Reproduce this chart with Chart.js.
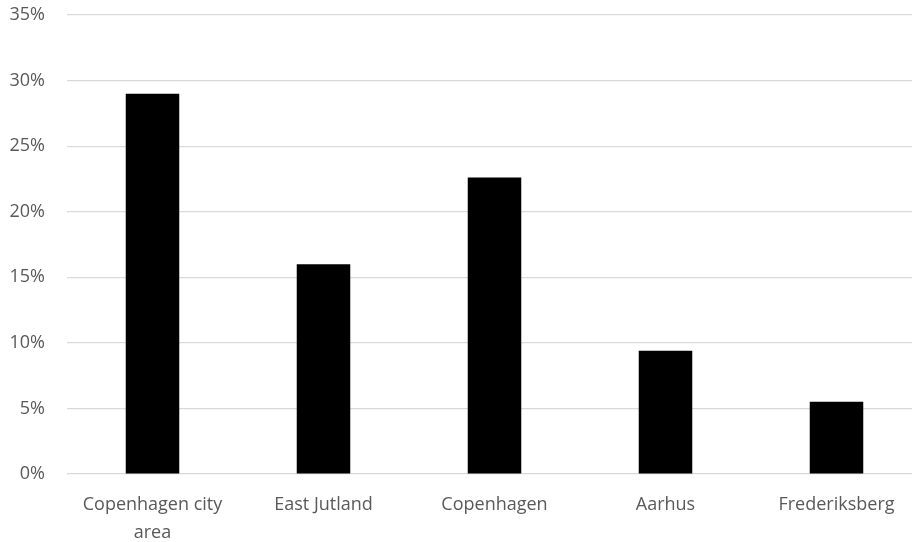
<!DOCTYPE html>
<html lang="en">
<head>
  <meta charset="UTF-8">
  <title>Share by area</title>
  <script src="https://cdn.jsdelivr.net/npm/chart.js"></script>
  <style>
    html, body { margin: 0; padding: 0; background: #fff; overflow: hidden; }
    #wrap { width: 922px; height: 542px; }
  </style>
</head>
<body>
  <div id="wrap">
    <canvas id="bar-chart"></canvas>
  </div>

  <script>
    // data
    const areas = [['Copenhagen city', 'area'], 'East Jutland', 'Copenhagen', 'Aarhus', 'Frederiksberg'];
    const shares = [29.0, 16.0, 22.6, 9.4, 5.5];
    const yTicks = [0, 5, 10, 15, 20, 25, 30, 35];

    const labelColor = '#595959';
    const font = { family: '"Open Sans", sans-serif', size: 18 };

    const ctx = document.getElementById('bar-chart').getContext('2d');
    new Chart(ctx, {
      type: 'bar',
      data: {
        labels: areas,
        datasets: [{
          data: shares,
          backgroundColor: '#000000',
          borderWidth: 0,
          categoryPercentage: 1,
          barPercentage: 0.313
        }]
      },
      options: {
        responsive: true,
        maintainAspectRatio: false,
        animation: false,
        layout: { padding: { top: 15, left: 0, right: 0, bottom: 0 } },
        plugins: {
          legend: { display: false },
          tooltip: { enabled: false }
        },
        scales: {
          x: {
            grid: { display: false },
            border: { display: false },
            afterFit: axis => {
              axis.height = 68;
              axis.paddingTop = 0;
              axis.paddingBottom = 0;
            },
            ticks: {
              color: labelColor,
              font: Object.assign({ lineHeight: 1.55 }, font),
              padding: 9,
              maxRotation: 0
            }
          },
          y: {
            min: 0,
            max: 35,
            afterBuildTicks: axis => {
              axis.ticks = yTicks.map(v => ({ value: v }));
            },
            afterFit: axis => {
              axis.width = 67;
              axis.paddingTop = 0;
              axis.paddingBottom = 0;
            },
            grid: { color: '#d9d9d9', lineWidth: 1.2, drawTicks: false },
            border: { display: false },
            ticks: {
              color: labelColor,
              font: font,
              padding: 22,
              callback: v => v + '%'
            }
          }
        }
      }
    });
  </script>
</body>
</html>
